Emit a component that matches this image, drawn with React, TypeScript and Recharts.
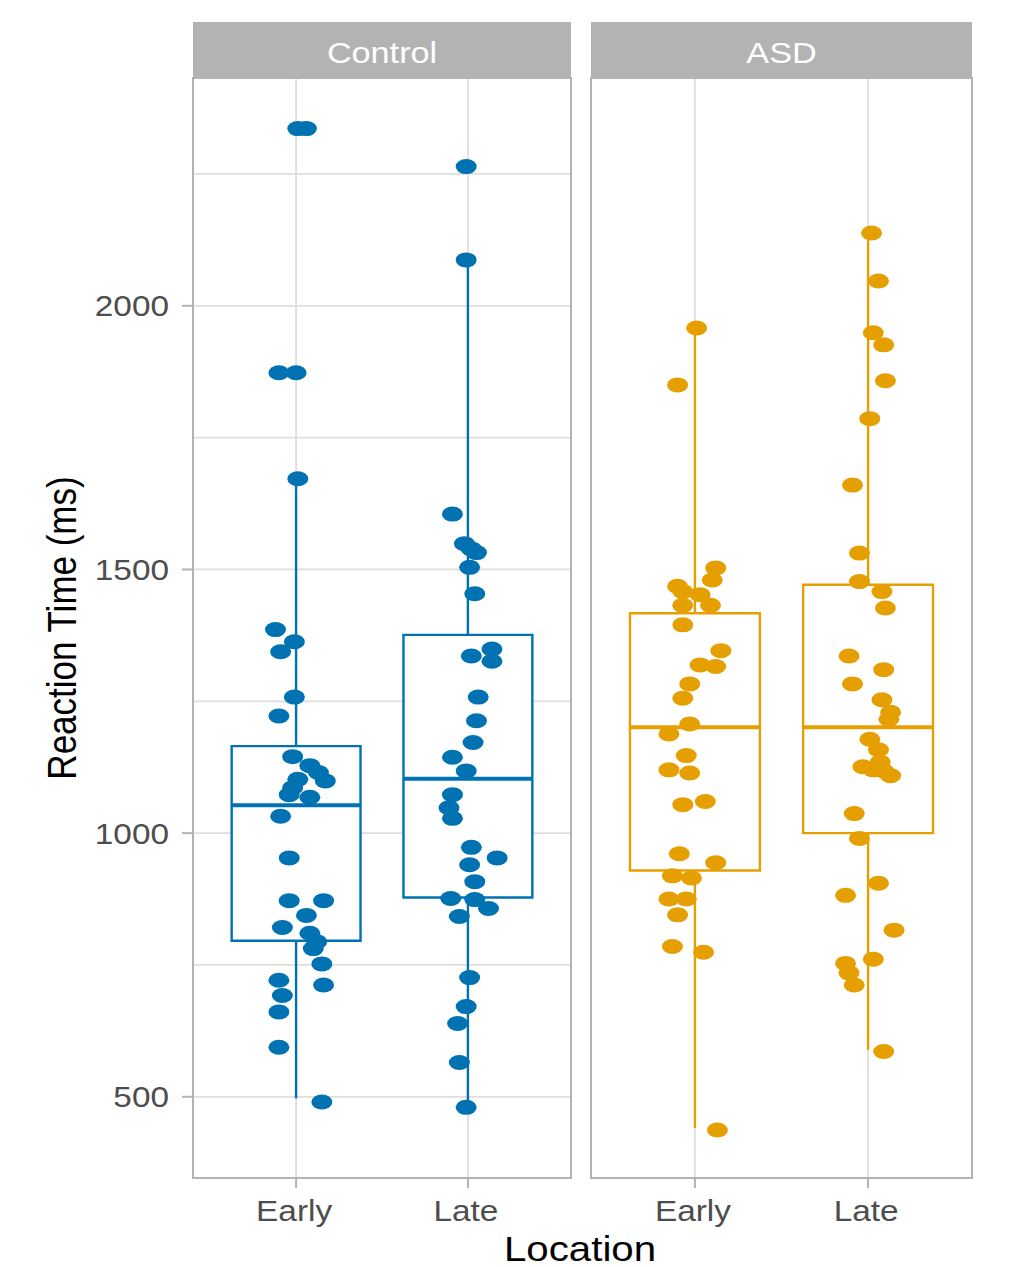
import React from 'react';
import {
    ScatterChart,
    Scatter,
    XAxis,
    YAxis,
    CartesianGrid,
    ReferenceArea,
    ReferenceLine
} from 'recharts';

const locations = ['Early', 'Late'];
const groups = ['Control', 'ASD'];
const groupColors = ['#0072B2', '#E69F00'];

const yMajorTicks = [500, 1000, 1500, 2000];
const yAllTicks = [500, 750, 1000, 1250, 1500, 1750, 2000, 2250];
const yDomain = [346, 2432];
const xDomain = [0.4, 2.6];

// reaction times (ms) of the jittered points
const controlEarlyRT = [2336, 2336, 1873, 1873, 1672, 1386, 1363, 1344, 1258, 1222, 1145, 1128, 1115, 1099, 1102, 1086, 1073, 1068, 1032, 953, 872, 872, 844, 821, 810, 794, 781, 752, 712, 721, 692, 661, 594, 490];
const controlLateRT = [2264, 2087, 1605, 1549, 1539, 1532, 1504, 1454, 1336, 1349, 1326, 1258, 1213, 1172, 1144, 1118, 1073, 1048, 1028, 973, 953, 940, 908, 876, 874, 857, 842, 726, 671, 639, 565, 480];
const asdEarlyRT = [1958, 1850, 1503, 1480, 1468, 1458, 1452, 1432, 1432, 1395, 1346, 1319, 1316, 1283, 1256, 1207, 1188, 1147, 1120, 1114, 1054, 1060, 961, 944, 919, 915, 875, 875, 845, 785, 774, 437];
const asdLateRT = [2138, 2047, 1949, 1926, 1858, 1786, 1660, 1531, 1477, 1458, 1427, 1336, 1310, 1283, 1253, 1229, 1216, 1178, 1158, 1126, 1120, 1118, 1109, 1135, 1037, 990, 905, 882, 816, 761, 753, 735, 712, 586];

// horizontal jitter of each point, in category units from the category centre
const controlEarlyJitter = [0.01, 0.06, -0.10, 0.00, 0.01, -0.12, -0.01, -0.09, -0.01, -0.10, -0.02, 0.08, 0.13, 0.17, 0.01, -0.02, -0.04, 0.08, -0.09, -0.04, -0.04, 0.16, 0.06, -0.08, 0.08, 0.12, 0.10, 0.15, 0.16, -0.10, -0.08, -0.10, -0.10, 0.15];
const controlLateJitter = [-0.01, -0.01, -0.09, -0.02, 0.02, 0.05, 0.01, 0.04, 0.02, 0.14, 0.14, 0.06, 0.05, 0.03, -0.09, -0.01, -0.09, -0.11, -0.09, 0.02, 0.17, 0.01, 0.04, -0.10, 0.04, 0.12, -0.05, 0.01, -0.01, -0.06, -0.05, -0.01];
const asdEarlyJitter = [0.01, -0.10, 0.12, 0.10, -0.10, -0.07, 0.03, 0.09, -0.07, -0.07, 0.15, 0.03, 0.12, -0.03, -0.07, -0.03, -0.15, -0.05, -0.15, -0.03, -0.07, 0.06, -0.09, 0.12, -0.13, -0.02, -0.15, -0.05, -0.10, -0.13, 0.05, 0.13];
const asdLateJitter = [0.02, 0.06, 0.03, 0.09, 0.10, 0.01, -0.09, -0.05, -0.05, 0.08, 0.10, -0.11, 0.09, -0.09, 0.08, 0.13, 0.12, 0.01, 0.06, -0.03, 0.03, 0.09, 0.13, 0.07, -0.08, -0.05, 0.06, -0.13, 0.15, 0.03, -0.13, -0.11, -0.08, 0.09];

// box stats per location: [lower whisker, q1, median, q3, upper whisker]
const controlBoxes = [
    [497, 796, 1053, 1165, 1672],
    [480, 878, 1103, 1376, 2087]
];
const asdBoxes = [
    [441, 929, 1201, 1417, 1958],
    [589, 1000, 1201, 1471, 2138]
];

const FONT = '"Liberation Sans", Arial, sans-serif';
const STRETCH = 1.15;
const BOX_HALF = 0.375;

const toPoints = (rt: number[], jitter: number[], pos: number) =>
    rt.map((y, i) => ({ x: pos + jitter[i], y }));

const controlPoints = [
    ...toPoints(controlEarlyRT, controlEarlyJitter, 1),
    ...toPoints(controlLateRT, controlLateJitter, 2)
];
const asdPoints = [
    ...toPoints(asdEarlyRT, asdEarlyJitter, 1),
    ...toPoints(asdLateRT, asdLateJitter, 2)
];

const XTick = (props: any) => {
    const { x, y, payload } = props;
    return (
        <g>
            <line x1={x} x2={x} y1={y} y2={y + 10} stroke="#B3B3B3" strokeWidth={2} />
            <text
                transform={`translate(${x - 2},${y + 43}) scale(${STRETCH},1)`}
                textAnchor="middle"
                fontSize={29}
                fontFamily={FONT}
                fill="#4D4D4D"
            >
                {locations[payload.value - 1]}
            </text>
        </g>
    );
};

const YTick = (props: any) => {
    const { x, y, payload } = props;
    if (!yMajorTicks.includes(payload.value)) return <g />;
    return (
        <g>
            <line x1={x - 11} x2={x} y1={y} y2={y} stroke="#B3B3B3" strokeWidth={2} />
            <text
                transform={`translate(${x - 24},${y + 10.5}) scale(${STRETCH},1)`}
                textAnchor="end"
                fontSize={29}
                fontFamily={FONT}
                fill="#4D4D4D"
            >
                {payload.value}
            </text>
        </g>
    );
};

interface PanelProps {
    points: { x: number; y: number }[];
    boxes: number[][];
    color: string;
    left: number;
    width: number;
    axisWidth: number;
}

const Panel: React.FC<PanelProps> = ({ points, boxes, color, left, width, axisWidth }) => {
    const Dot = (p: any) => {
        if (p.cx === undefined || p.cy === undefined) return null;
        return <ellipse cx={p.cx} cy={p.cy} rx={10.5} ry={7.5} fill={color} />;
    };
    return (
        <div style={{ position: 'absolute', left, top: 0 }}>
            <ScatterChart width={width} height={1267} margin={{ top: 78, right: 0, bottom: 29, left: 0 }}>
                <CartesianGrid
                    stroke="#DEDEDE"
                    strokeWidth={1.8}
                    horizontalValues={yAllTicks}
                    verticalValues={[1, 2]}
                />
                <XAxis
                    dataKey="x"
                    type="number"
                    domain={xDomain}
                    ticks={[1, 2]}
                    interval={0}
                    allowDataOverflow
                    axisLine={false}
                    tickLine={false}
                    tickSize={0}
                    tickMargin={0}
                    height={60}
                    tick={<XTick />}
                />
                <YAxis
                    dataKey="y"
                    type="number"
                    domain={yDomain}
                    ticks={yAllTicks}
                    interval={0}
                    allowDataOverflow
                    axisLine={false}
                    tickLine={false}
                    tickSize={0}
                    tickMargin={0}
                    width={axisWidth}
                    tick={axisWidth > 0 ? <YTick /> : false}
                />
                {boxes.map((b, i) => {
                    const pos = i + 1;
                    return (
                        <React.Fragment key={`box-${i}`}>
                            <ReferenceLine
                                segment={[{ x: pos, y: b[0] }, { x: pos, y: b[1] }]}
                                stroke={color}
                                strokeWidth={2.4}
                            />
                            <ReferenceLine
                                segment={[{ x: pos, y: b[3] }, { x: pos, y: b[4] }]}
                                stroke={color}
                                strokeWidth={2.4}
                            />
                            <ReferenceArea
                                x1={pos - BOX_HALF}
                                x2={pos + BOX_HALF}
                                y1={b[1]}
                                y2={b[3]}
                                fill="#FFFFFF"
                                fillOpacity={1}
                                stroke={color}
                                strokeWidth={2.4}
                            />
                            <ReferenceLine
                                segment={[{ x: pos - BOX_HALF, y: b[2] }, { x: pos + BOX_HALF, y: b[2] }]}
                                stroke={color}
                                strokeWidth={4}
                            />
                        </React.Fragment>
                    );
                })}
                <Scatter data={points} fill={color} shape={<Dot />} isAnimationActive={false} />
            </ScatterChart>
        </div>
    );
};

const Strip = ({ x, w, label }: { x: number; w: number; label: string }) => (
    <g>
        <rect x={x} y={22} width={w} height={56} fill="#B3B3B3" />
        <text
            transform={`translate(${x + w / 2},63) scale(1.18,1)`}
            textAnchor="middle"
            fontSize={29}
            fontFamily={FONT}
            fill="#FFFFFF"
        >
            {label}
        </text>
    </g>
);

const App: React.FC = () => {
    return (
        <div style={{ position: 'absolute', left: 0, top: 0, width: 1012, height: 1267, background: '#FFFFFF' }}>
            <Panel points={controlPoints} boxes={controlBoxes} color={groupColors[0]} left={0} width={571} axisWidth={193} />
            <Panel points={asdPoints} boxes={asdBoxes} color={groupColors[1]} left={591} width={381} axisWidth={0} />
            <svg
                width={1012}
                height={1267}
                style={{ position: 'absolute', left: 0, top: 0, pointerEvents: 'none' }}
            >
                <rect x={193} y={78} width={378} height={1100} fill="none" stroke="#B3B3B3" strokeWidth={2} />
                <rect x={591} y={78} width={381} height={1100} fill="none" stroke="#B3B3B3" strokeWidth={2} />
                <Strip x={193} w={378} label={groups[0]} />
                <Strip x={591} w={381} label={groups[1]} />
                <text
                    transform={`translate(76,628) rotate(-90) scale(1,${STRETCH})`}
                    textAnchor="middle"
                    fontSize={35}
                    fontFamily={FONT}
                    fill="#000000"
                >
                    Reaction Time (ms)
                </text>
                <text
                    transform={`translate(580,1261) scale(${STRETCH},1)`}
                    textAnchor="middle"
                    fontSize={35}
                    fontFamily={FONT}
                    fill="#000000"
                >
                    Location
                </text>
            </svg>
        </div>
    );
};

export default App;
